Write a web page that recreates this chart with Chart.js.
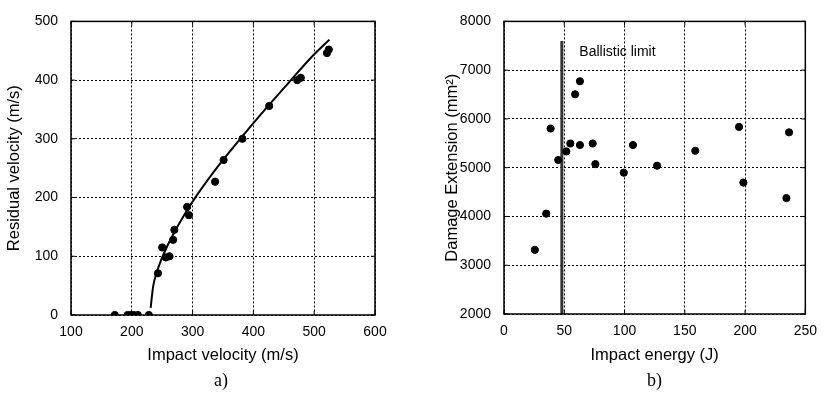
<!DOCTYPE html>
<html>
<head>
<meta charset="utf-8">
<script src="https://cdn.jsdelivr.net/npm/chart.js@4.4.1/dist/chart.umd.min.js"></script>
<style>
    body { margin: 0; background: #fff; width: 826px; height: 398px; overflow: hidden; position: relative; }
    .box { position: absolute; top: 0; height: 398px; }
    #boxA { left: 0; width: 400px; }
    #boxB { left: 430px; width: 396px; }
    .cap { position: absolute; top: 370px; font-family: "Liberation Serif", serif; font-size: 18px; color: #000; }
</style>
</head>
<body>
<div class="box" id="boxA"><canvas id="chartA"></canvas></div>
<div class="box" id="boxB"><canvas id="chartB"></canvas></div>
<div class="cap" style="left:214px">a)</div>
<div class="cap" style="left:647px">b)</div>
<script>
// a) residual vs impact velocity (m/s)
const impactVelocity = [172, 193, 198, 203, 210, 228, 243, 250, 256, 262, 268, 270, 291, 294, 337, 351, 382, 426, 472, 478, 521, 524];
const residualVelocity = [0, 0, 0, 0, 0, 0, 71, 115, 98, 100, 128, 145, 184, 170, 227, 264, 300, 356, 400, 404, 446, 452];

// fitted curve
const fitImpact = [231, 235, 240, 250, 260, 270, 285, 300, 325, 350, 380, 420, 460, 500, 525];
const fitResidual = [12, 48, 69, 98, 121, 141, 168, 193, 230, 264, 302, 351, 398, 444, 469];

const velTicksX = [100, 200, 300, 400, 500, 600];
const velTicksY = [0, 100, 200, 300, 400, 500];

// b) damage extension vs impact energy
const impactEnergy = [25.6, 35, 38.7, 45, 51.7, 55, 59, 63, 63, 73.6, 75.8, 99.4, 107, 127, 158.7, 195, 198.6, 236.5, 234.3];
const damageExtension = [3316, 4058, 5803, 5158, 5334, 5496, 6506, 6773, 5465, 5496, 5074, 4898, 5465, 5041, 5348, 5836, 4695, 5725, 4377];

const ballisticLimit = 48;
const ballisticLineY = [2000, 7600];
const ballisticLabel = "Ballistic limit";

const energyTicksX = [0, 50, 100, 150, 200, 250];
const damageTicksY = [2000, 3000, 4000, 5000, 6000, 7000, 8000];

const tickFont = { family: "'Liberation Sans', Arial, sans-serif", size: 14 };
const titleFont = { family: "'Liberation Sans', Arial, sans-serif", size: 16.5 };

function toPoints(xs, ys) {
    return xs.map((x, i) => ({ x: x, y: ys[i] }));
}

// box around plot + short inward tick marks
const framePlugin = {
    id: "frame",
    afterDraw(chart) {
        const { ctx, chartArea: a, scales } = chart;
        ctx.save();
        ctx.strokeStyle = "#000";
        ctx.lineWidth = 1.5;
        ctx.strokeRect(a.left, a.top, a.right - a.left, a.bottom - a.top);
        ctx.lineWidth = 1;
        ctx.beginPath();
        scales.x.ticks.forEach(t => {
            const px = scales.x.getPixelForValue(t.value);
            ctx.moveTo(px, a.bottom); ctx.lineTo(px, a.bottom - 4);
            ctx.moveTo(px, a.top); ctx.lineTo(px, a.top + 4);
        });
        scales.y.ticks.forEach(t => {
            const py = scales.y.getPixelForValue(t.value);
            ctx.moveTo(a.left, py); ctx.lineTo(a.left + 4, py);
            ctx.moveTo(a.right, py); ctx.lineTo(a.right - 4, py);
        });
        ctx.stroke();
        ctx.restore();
    }
};

const labelPlugin = {
    id: "ballisticText",
    afterDatasetsDraw(chart) {
        if (chart.canvas.id !== "chartB") return;
        const { ctx, scales } = chart;
        ctx.save();
        ctx.fillStyle = "#000";
        ctx.font = "14px 'Liberation Sans', Arial, sans-serif";
        ctx.textAlign = "left";
        ctx.textBaseline = "middle";
        ctx.fillText(ballisticLabel, scales.x.getPixelForValue(62.5), scales.y.getPixelForValue(7375));
        ctx.restore();
    }
};

function makeScale(min, max, tickVals, title, axis, fitSize, titlePad) {
    return {
        type: "linear",
        min: min,
        max: max,
        afterBuildTicks: scale => { scale.ticks = tickVals.map(v => ({ value: v })); },
        afterFit: scale => {
            if (axis === "x") scale.height = fitSize; else scale.width = fitSize;
        },
        ticks: {
            color: "#000",
            font: tickFont,
            padding: axis === "x" ? 9 : 13,
            maxRotation: 0,
            callback: v => String(v)
        },
        grid: { color: "#000", lineWidth: 1, drawTicks: false },
        border: { display: false, dash: [2, 2] },
        title: { display: true, text: title, color: "#000", font: titleFont, padding: titlePad }
    };
}

Chart.defaults.animation = false;

new Chart(document.getElementById("chartA"), {
    type: "scatter",
    data: {
        datasets: [
            {
                data: toPoints(impactVelocity, residualVelocity),
                backgroundColor: "#000",
                borderColor: "#000",
                pointRadius: 3.6
            },
            {
                type: "line",
                data: toPoints(fitImpact, fitResidual),
                borderColor: "#000",
                borderWidth: 2,
                pointRadius: 0,
                fill: false,
                cubicInterpolationMode: "monotone"
            }
        ]
    },
    options: {
        responsive: true,
        maintainAspectRatio: false,
        layout: { padding: { top: 10, right: 25, bottom: 0, left: 0 } },
        plugins: { legend: { display: false }, tooltip: { enabled: false } },
        scales: {
            x: makeScale(100, 600, velTicksX, "Impact velocity (m/s)", "x", 83, { top: 0, bottom: 33 }),
            y: makeScale(0, 500, velTicksY, "Residual velocity (m/s)", "y", 71, { top: 5, bottom: 0 })
        }
    },
    plugins: [framePlugin]
});

new Chart(document.getElementById("chartB"), {
    type: "scatter",
    data: {
        datasets: [
            {
                data: toPoints(impactEnergy, damageExtension),
                backgroundColor: "#000",
                borderColor: "#000",
                pointRadius: 3.6
            },
            {
                type: "line",
                data: toPoints([ballisticLimit, ballisticLimit], ballisticLineY),
                borderColor: "#333",
                borderWidth: 3,
                pointRadius: 0,
                fill: false
            }
        ]
    },
    options: {
        responsive: true,
        maintainAspectRatio: false,
        layout: { padding: { top: 9, right: 14, bottom: 0, left: 0 } },
        plugins: { legend: { display: false }, tooltip: { enabled: false } },
        scales: {
            x: makeScale(0, 250, energyTicksX, "Impact energy (J)", "x", 84, { top: 0, bottom: 33 }),
            y: makeScale(2000, 8000, damageTicksY, "Damage Extension (mm²)", "y", 74, { top: 13, bottom: 0 })
        }
    },
    plugins: [framePlugin, labelPlugin]
});
</script>
</body>
</html>
